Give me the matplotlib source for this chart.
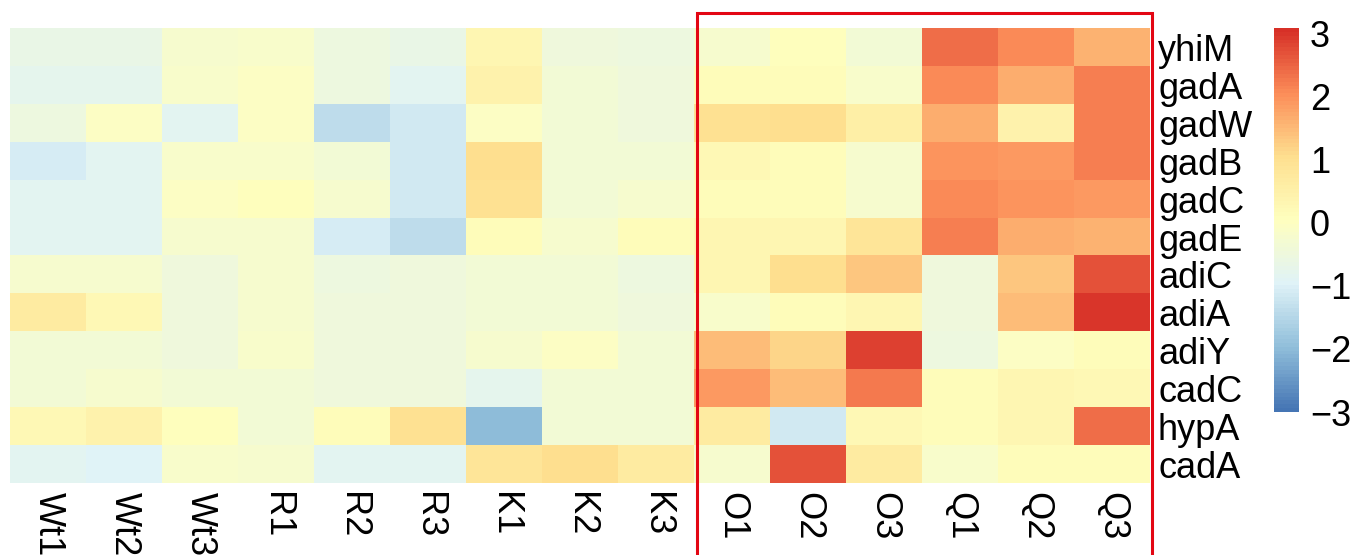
import numpy as np
import matplotlib
matplotlib.use("Agg")
import matplotlib.pyplot as plt
from matplotlib.colors import LinearSegmentedColormap
from matplotlib.patches import Rectangle

plt.rcParams['font.family'] = ['Liberation Sans', 'DejaVu Sans']

genes = ["yhiM", "gadA", "gadW", "gadB", "gadC", "gadE",
         "adiC", "adiA", "adiY", "cadC", "hypA", "cadA"]
samples = ["Wt1", "Wt2", "Wt3", "R1", "R2", "R3", "K1", "K2", "K3",
           "O1", "O2", "O3", "Q1", "Q2", "Q3"]

yhiM = [-0.7, -0.7, -0.3, -0.2, -0.6, -0.7, 0.3, -0.5, -0.55, -0.3, 0.0, -0.4, 2.3, 2.0, 1.5]
gadA = [-0.8, -0.8, -0.2, -0.1, -0.6, -0.9, 0.4, -0.4, -0.5, 0.1, 0.1, -0.2, 2.0, 1.6, 2.1]
gadW = [-0.6, -0.1, -0.9, -0.1, -1.4, -1.2, -0.1, -0.4, -0.5, 0.9, 1.0, 0.5, 1.6, 0.4, 2.1]
gadB = [-1.1, -0.9, -0.2, -0.2, -0.4, -1.2, 1.0, -0.4, -0.4, 0.2, 0.1, -0.3, 1.9, 1.8, 2.1]
gadC = [-0.9, -0.9, -0.1, 0.0, -0.3, -1.2, 0.9, -0.4, -0.3, 0.1, 0.1, -0.3, 2.0, 1.9, 1.8]
gadE = [-0.9, -0.9, -0.3, -0.3, -1.1, -1.4, 0.1, -0.3, 0.1, 0.3, 0.3, 0.8, 2.1, 1.6, 1.5]
adiC = [-0.3, -0.3, -0.5, -0.3, -0.6, -0.5, -0.4, -0.4, -0.6, 0.3, 1.0, 1.3, -0.5, 1.3, 2.6]
adiA = [0.6, 0.2, -0.5, -0.3, -0.5, -0.5, -0.4, -0.4, -0.5, -0.2, 0.1, 0.3, -0.5, 1.4, 2.9]
adiY = [-0.4, -0.4, -0.5, -0.2, -0.5, -0.5, -0.3, -0.1, -0.4, 1.4, 1.1, 2.8, -0.6, -0.1, 0.1]
cadC = [-0.4, -0.3, -0.4, -0.4, -0.5, -0.5, -0.8, -0.4, -0.4, 1.8, 1.4, 2.2, 0.1, 0.3, 0.2]
hypA = [0.2, 0.4, 0.0, -0.4, 0.1, 0.9, -2.0, -0.4, -0.4, 0.6, -1.2, 0.2, 0.1, 0.3, 2.3]
cadA = [-0.9, -1.0, -0.2, -0.3, -0.9, -0.9, 0.8, 1.0, 0.6, -0.3, 2.6, 0.6, -0.2, 0.1, 0.1]

data = np.array([yhiM, gadA, gadW, gadB, gadC, gadE,
                 adiC, adiA, adiY, cadC, hypA, cadA])

colorbar_ticks = [3, 2, 1, 0, -1, -2, -3]

W, H = 1357, 555
fig = plt.figure(figsize=(W / 100, H / 100), dpi=100)

cmap = LinearSegmentedColormap.from_list(
    "rdylbu_r",
    ["#4575B4", "#91BFDB", "#E0F3F8", "#FFFFBF", "#FEE090", "#FC8D59", "#D73027"],
    N=100)

# heatmap
hx0, hx1, hy0, hy1 = 10, 1150, 28, 483
ax = fig.add_axes([hx0 / W, 1 - hy1 / H, (hx1 - hx0) / W, (hy1 - hy0) / H])
ax.imshow(data, cmap=cmap, vmin=-3, vmax=3, aspect='auto', interpolation='nearest')
ax.set_xticks([])
ax.set_yticks([])
for s in ax.spines.values():
    s.set_visible(False)

fs = 26
row_h = (hy1 - hy0) / len(genes)
col_w = (hx1 - hx0) / len(samples)
for i, g in enumerate(genes):
    ax.text(len(samples) - 0.5 + 8 / col_w, i + 14 / row_h, g, ha='left', va='baseline',
            fontsize=fs, clip_on=False)
for j, s in enumerate(samples):
    ax.text(j, len(genes) - 0.5 + 9 / row_h, s, ha='center', va='top',
            rotation=270, fontsize=fs, clip_on=False)

# colorbar
cx0, cx1, cy0, cy1 = 1274, 1299, 28, 412
cax = fig.add_axes([cx0 / W, 1 - cy1 / H, (cx1 - cx0) / W, (cy1 - cy0) / H])
grad = np.linspace(-3, 3, 100).reshape(-1, 1)
cax.imshow(grad, cmap=cmap, vmin=-3, vmax=3, aspect='auto', origin='lower',
           extent=[0, 1, -3, 3.08], interpolation='nearest')
cax.set_ylim(-3, 3.08)
cax.set_xlim(0, 1)
cax.set_xticks([])
cax.yaxis.tick_right()
cax.set_yticks(colorbar_ticks)
cax.set_yticklabels([str(t).replace('-', '\u2212') for t in colorbar_ticks], fontsize=fs)
cax.tick_params(axis='y', length=0, pad=8)
for s in cax.spines.values():
    s.set_visible(False)

# red highlight box
rect = Rectangle((697 / W, -0.02), (1152 - 697) / W, (1 - 13 / H) + 0.02,
                 transform=fig.transFigure, fill=False, edgecolor='#E30613',
                 linewidth=2.2, clip_on=False)
fig.patches.append(rect)

fig.savefig("out.png", dpi=100)
